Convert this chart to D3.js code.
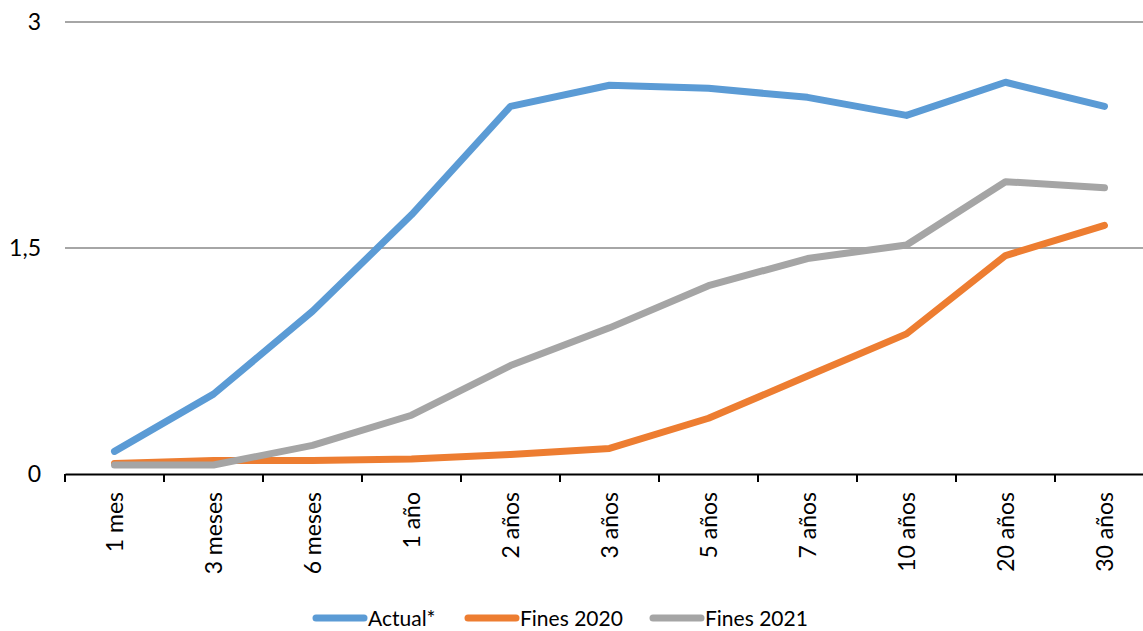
<!DOCTYPE html>
<html>
<head>
<meta charset="utf-8">
<script src="https://cdn.jsdelivr.net/npm/d3@7"></script>
<style>
  body { margin: 0; background: #fff; }
  svg text { font-family: Lato, "Noto Sans", sans-serif; fill: #000; }
</style>
</head>
<body>
<div id="chart"></div>
<script>
// Plazos de la curva
const plazos = ["1 mes", "3 meses", "6 meses", "1 año", "2 años", "3 años", "5 años", "7 años", "10 años", "20 años", "30 años"]

const actual = [0.15, 0.53, 1.08, 1.72, 2.44, 2.58, 2.56, 2.50, 2.38, 2.60, 2.44]
const fines2020 = [0.07, 0.09, 0.09, 0.10, 0.13, 0.17, 0.37, 0.65, 0.93, 1.45, 1.65]
const fines2021 = [0.06, 0.06, 0.19, 0.39, 0.72, 0.97, 1.25, 1.43, 1.52, 1.94, 1.90]

const yTicks = [0, 1.5, 3]

const seriesNames = ["Actual*", "Fines 2020", "Fines 2021"]
const seriesColors = ["#5b9bd5", "#ed7d31", "#a5a5a5"]

const width = 1143, height = 631

let svg = d3.select("#chart").append("svg")
    .attr("width", width)
    .attr("height", height)

let x = d3.scaleBand()
    .domain(plazos)
    .range([65, 1154])

let y = d3.scaleLinear()
    .domain([0, 3])
    .range([474, 22])

// gridlines
svg.append("g")
    .selectAll("line")
    .data(yTicks.filter(d => d > 0))
    .enter()
    .append("line")
    .attr("x1", 65)
    .attr("x2", width)
    .attr("y1", d => y(d))
    .attr("y2", d => y(d))
    .attr("stroke", "#898989")
    .attr("stroke-width", 1.3)

// y labels
svg.append("g")
    .selectAll("text")
    .data(yTicks)
    .enter()
    .append("text")
    .attr("x", 41)
    .attr("y", d => y(d))
    .attr("dy", "0.36em")
    .attr("text-anchor", "end")
    .style("font-size", "23px")
    .text(d => String(d).replace(".", ","))

// x axis
let xAxis = svg.append("g")
    .attr("transform", "translate(0," + y(0) + ")")
    .call(d3.axisBottom(x).tickSize(0).tickFormat(""))
xAxis.select(".domain").attr("stroke", "#000").attr("stroke-width", 2.2)

// tick marks between categories
svg.append("g")
    .selectAll("line")
    .data(plazos)
    .enter()
    .append("line")
    .attr("x1", d => x(d))
    .attr("x2", d => x(d))
    .attr("y1", y(0))
    .attr("y2", y(0) + 8)
    .attr("stroke", "#000")
    .attr("stroke-width", 2)

// x labels (rotated)
svg.append("g")
    .selectAll("text")
    .data(plazos)
    .enter()
    .append("text")
    .attr("transform", d => "translate(" + (x(d) + x.bandwidth() / 2) + "," + 492 + ") rotate(-90)")
    .attr("text-anchor", "end")
    .attr("dy", "0.35em")
    .style("font-size", "23px")
    .text(d => d)

// lines
let line = d3.line()
    .x((d, i) => x(plazos[i]) + x.bandwidth() / 2)
    .y(d => y(d))

let allSeries = [actual, fines2020, fines2021]
svg.append("g")
    .selectAll("path")
    .data(allSeries)
    .enter()
    .append("path")
    .attr("d", d => line(d))
    .attr("fill", "none")
    .attr("stroke", (d, i) => seriesColors[i])
    .attr("stroke-width", 7)
    .attr("stroke-linecap", "round")
    .attr("stroke-linejoin", "round")

// legend
const legendX = [316, 468, 653]
let legend = svg.append("g")
    .selectAll("g")
    .data(seriesNames)
    .enter()
    .append("g")
    .attr("transform", (d, i) => "translate(" + legendX[i] + ",618)")

legend.append("line")
    .attr("x1", 0)
    .attr("x2", 48)
    .attr("stroke", (d, i) => seriesColors[i])
    .attr("stroke-width", 7)
    .attr("stroke-linecap", "round")

legend.append("text")
    .attr("x", 52)
    .attr("dy", "0.36em")
    .style("font-size", "21px")
    .text(d => d)
</script>
</body>
</html>
